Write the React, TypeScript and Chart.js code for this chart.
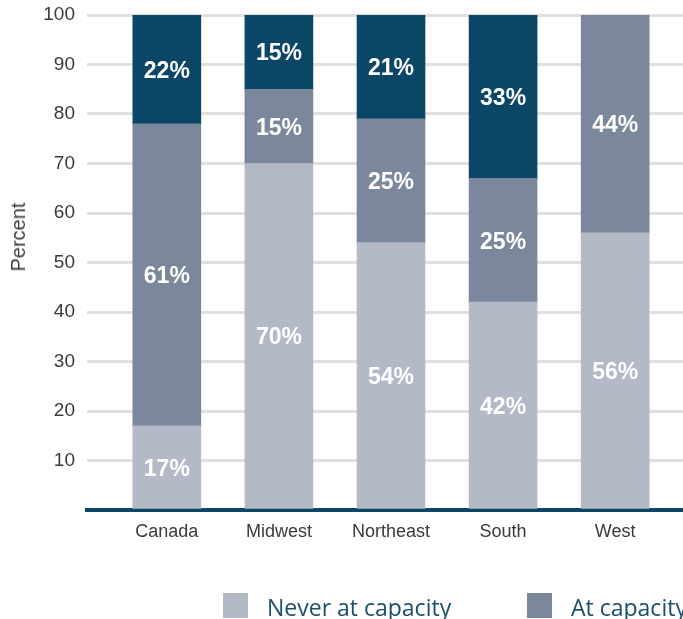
import React, { useEffect, useRef } from "react";
import { Chart, registerables } from "chart.js";

Chart.register(...registerables);

const categories = ["Canada", "Midwest", "Northeast", "South", "West"];
const neverAtCapacity = [17, 70, 54, 42, 56];
const atCapacity = [61, 15, 25, 25, 44];
const alwaysAtCapacity = [22, 15, 21, 33, 0];
const yTickValues = [0, 10, 20, 30, 40, 50, 60, 70, 80, 90, 100];
const seriesNames = ["Never at capacity", "At capacity", "Always at capacity"];
const seriesColors = ["#b3b9c6", "#7b889c", "#0b4666"];
const axisColor = "#0b4666";

const segLabels = {
  id: "segLabels",
  afterDatasetsDraw(chart: any) {
    const ctx = chart.ctx;
    ctx.save();
    ctx.font = 'bold 23px "Liberation Sans", Arial, sans-serif';
    ctx.fillStyle = "#ffffff";
    ctx.textAlign = "center";
    ctx.textBaseline = "middle";
    chart.data.datasets.forEach((ds: any, di: number) => {
      const meta = chart.getDatasetMeta(di);
      meta.data.forEach((bar: any, i: number) => {
        const v = ds.data[i].y;
        if (!v) return;
        const p = bar.getProps(["x", "y", "base"], true);
        ctx.fillText(v + "%", p.x, (p.y + p.base) / 2 + 2);
      });
    });
    ctx.restore();
  },
};

export default function App() {
  const ref = useRef<HTMLCanvasElement | null>(null);

  useEffect(() => {
    if (!ref.current) return;
    const series = [neverAtCapacity, atCapacity, alwaysAtCapacity];
    const chart = new Chart(ref.current, {
      type: "bar",
      data: {
        datasets: series.map((vals, si) => ({
          label: seriesNames[si],
          data: vals.map((v, i) => ({ x: i, y: v })),
          backgroundColor: seriesColors[si],
          borderWidth: 0,
          barThickness: 68,
        })),
      },
      options: {
        animation: false,
        responsive: true,
        maintainAspectRatio: false,
        layout: { padding: { top: 15, left: 0, right: 0, bottom: 0 } },
        plugins: {
          legend: { display: false },
          tooltip: { enabled: false },
        },
        scales: {
          x: {
            type: "linear",
            min: -0.712,
            max: 4.605,
            offset: false,
            stacked: true,
            grid: { display: false, drawTicks: false },
            border: { display: true, color: axisColor, width: 4 },
            afterBuildTicks: (s: any) => {
              s.ticks = categories.map((_, i) => ({ value: i }));
            },
            afterFit: (s: any) => {
              s.height = 109;
              s.paddingLeft = 0;
              s.paddingRight = 0;
            },
            ticks: {
              autoSkip: false,
              maxRotation: 0,
              padding: 11,
              color: "#3a3a3a",
              font: { family: '"Liberation Sans", Arial, sans-serif', size: 18 },
              callback: (v: any) => categories[v] ?? "",
            },
          },
          y: {
            stacked: true,
            min: 0,
            max: 100,
            afterBuildTicks: (s: any) => {
              s.ticks = yTickValues.map((v) => ({ value: v }));
            },
            afterFit: (s: any) => {
              s.width = 87;
              s.paddingTop = 0;
              s.paddingBottom = 0;
            },
            grid: { color: "#e0e0e0", lineWidth: 3, drawTicks: false },
            border: { display: false },
            ticks: {
              padding: 12,
              color: "#3a3a3a",
              font: { family: '"Liberation Sans", Arial, sans-serif', size: 19 },
              callback: (v: any) => (v === 0 ? "" : String(v)),
            },
          },
        },
      },
      plugins: [segLabels],
    });
    return () => chart.destroy();
  }, []);

  const legendItems = [
    { left: 223, textLeft: 267, idx: 0 },
    { left: 527, textLeft: 571, idx: 1 },
  ];

  return (
    <div
      style={{
        position: "fixed",
        left: 0,
        top: 0,
        width: 683,
        height: 619,
        overflow: "hidden",
        background: "#fff",
      }}
    >
      <div style={{ position: "absolute", left: 0, top: 0, width: 683, height: 619 }}>
        <canvas ref={ref} />
      </div>
      <div
        style={{
          position: "absolute",
          left: 18,
          top: 237,
          transform: "translate(-50%, -50%) rotate(-90deg)",
          fontFamily: '"Liberation Sans", Arial, sans-serif',
          fontSize: 20,
          color: "#3a3a3a",
          whiteSpace: "nowrap",
          lineHeight: "20px",
        }}
      >
        Percent
      </div>
      {legendItems.map((it) => (
        <React.Fragment key={it.idx}>
          <div
            style={{
              position: "absolute",
              left: it.left,
              top: 593,
              width: 25,
              height: 25,
              background: seriesColors[it.idx],
            }}
          />
          <div
            style={{
              position: "absolute",
              left: it.textLeft,
              top: 596,
              fontFamily: '"Open Sans", sans-serif',
              fontSize: 23,
              lineHeight: "23px",
              color: "#1d4f68",
              whiteSpace: "nowrap",
            }}
          >
            {seriesNames[it.idx]}
          </div>
        </React.Fragment>
      ))}
    </div>
  );
}
